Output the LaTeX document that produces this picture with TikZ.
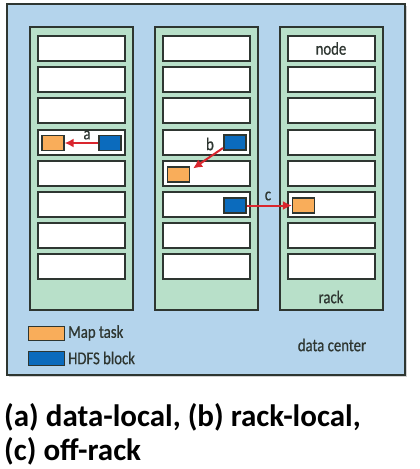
\documentclass[tikz,border=0pt]{standalone}
\usepackage{fontspec}
\setmainfont{Carlito}
\newfontfamily\condfont[FakeStretch=0.82,FakeBold=0.6]{Carlito}
\usetikzlibrary{shadows,arrows.meta}
\definecolor{dcblue}{HTML}{B4D4EC}
\definecolor{rackgreen}{HTML}{B8E0C9}
\definecolor{edgegray}{HTML}{2E3631}
\definecolor{maporange}{HTML}{F9AD5A}
\definecolor{hdfsblue}{HTML}{0B6BBD}
\definecolor{arrowred}{HTML}{D9262E}
\tikzset{
  dc/.style={draw=edgegray, line width=1.5pt, fill=dcblue, drop shadow={shadow xshift=2pt, shadow yshift=-2pt, opacity=0.35}},
  rackbox/.style={draw=edgegray, line width=2pt, fill=rackgreen, minimum width=103pt, minimum height=283pt, inner sep=0pt},
  nodebox/.style={draw=edgegray, line width=2pt, fill=white, minimum width=87pt, minimum height=25pt, inner sep=0pt},
  maptask/.style={draw=edgegray, line width=1.2pt, fill=maporange, minimum width=22pt, minimum height=15pt, inner sep=0pt},
  hdfs/.style={draw=edgegray, line width=1.2pt, fill=hdfsblue, minimum width=22pt, minimum height=15pt, inner sep=0pt},
  redarrow/.style={draw=arrowred, line width=2pt, -{Latex[length=9pt,width=9pt]}},
  lbl/.style={font=\condfont\fontsize{18}{20}\selectfont, text=edgegray, inner sep=0pt},
  caption/.style={font=\fontsize{31}{35}\selectfont\bfseries, anchor=base west, inner sep=0pt}
}
\begin{document}
\begin{tikzpicture}[x=1pt,y=-1pt]
\useasboundingbox (0,0) rectangle (420,469);
\fill[white] (0,0) rectangle (420,469);
\path[dc] (7,4) rectangle (405,375);
% racks
\foreach \r/\cx in {1/81, 2/206.5, 3/331}{
  \node[rackbox] (rack\r) at (\cx,168.5) {};
  \foreach \i in {1,...,8}{
    \node[nodebox] (n\r\i) at (\cx,{48.5+31.2*(\i-1)}) {};
  }
}
\node[lbl] (nodelbl) at (n31) {node};
\node[lbl] (racklbl) at (331,297) {rack};
% a
\node[maptask] (oa) at (53,143) {};
\node[hdfs] (ba) at (110,143) {};
\draw[redarrow] (ba.west) -- (oa.east);
\node[lbl] (la) at (87,135) {a};
% b
\node[hdfs] (bb) at (235,142.5) {};
\node[maptask] (ob) at (178.5,174.5) {};
\coordinate (bstart) at (223,148);
\draw[redarrow] (bstart) -- ([xshift=3pt,yshift=-2pt]ob.north east);
\node[lbl] (lb) at (210,144) {b};
% c
\node[hdfs] (bc) at (235,205.5) {};
\node[maptask] (oc) at (303.5,205.5) {};
\draw[redarrow] (bc.east) -- (oc.west);
\node[lbl] (lc) at (268,196) {c};
% legend
\node[maptask, minimum width=36pt, minimum height=14pt] (legm) at (46.5,333.5) {};
\node[hdfs, minimum width=36pt, minimum height=14pt] (legh) at (46.5,358.5) {};
\node[lbl, anchor=west] (legmt) at (68,333) {Map task};
\node[lbl, anchor=west] (leght) at (68,358) {HDFS block};
\node[lbl] (dclbl) at (332,345) {data center};
% caption
\node[caption] (cap1) at (4,426) {(a) data-local, (b) rack-local,};
\node[caption] (cap2) at (4,460) {(c) off-rack};
\end{tikzpicture}
\end{document}
